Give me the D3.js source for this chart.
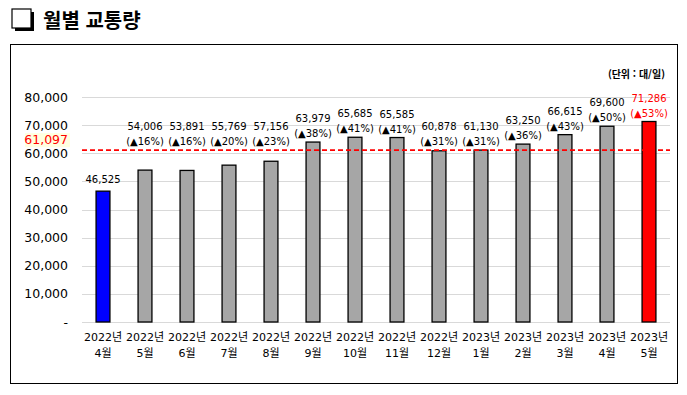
<!DOCTYPE html>
<html lang="ko">
<head>
<meta charset="UTF-8">
<title>월별 교통량</title>
<script src="https://d3js.org/d3.v7.min.js"></script>
<style>
  body { margin: 0; background: #fff; }
  svg { font-family: "DejaVu Sans", "Noto Sans CJK KR", sans-serif; }
</style>
</head>
<body>
<div id="chart"></div>
<script>
const years = ["2022년","2022년","2022년","2022년","2022년","2022년","2022년","2022년","2022년","2023년","2023년","2023년","2023년","2023년"];
const months = ["4월","5월","6월","7월","8월","9월","10월","11월","12월","1월","2월","3월","4월","5월"];
const traffic = [46525, 54006, 53891, 55769, 57156, 63979, 65685, 65585, 60878, 61130, 63250, 66615, 69600, 71286];
const growth = [null, "16%", "16%", "20%", "23%", "38%", "41%", "41%", "31%", "31%", "36%", "43%", "50%", "53%"];
const average = 61097;
const yTicks = [0, 10000, 20000, 30000, 40000, 50000, 60000, 70000, 80000];

const rows = traffic.map((v, i) => ({ i: i, value: v, growth: growth[i], year: years[i], month: months[i] }));

const width = 687, height = 395;
const svg = d3.select("#chart").append("svg")
    .attr("width", width)
    .attr("height", height);

// title
svg.append("rect").attr("x", 15).attr("y", 12).attr("width", 19).attr("height", 19).attr("fill", "#000");
svg.append("rect").attr("x", 12).attr("y", 9).attr("width", 19).attr("height", 19)
    .attr("fill", "#fff").attr("stroke", "#000").attr("stroke-width", 1.2);
svg.append("text")
    .attr("x", 43).attr("y", 28)
    .style("font-family", "\"Noto Sans CJK KR\", sans-serif")
    .style("font-size", "20px").style("font-weight", "bold")
    .text("월별 교통량");

// frame
svg.append("rect")
    .attr("x", 10.5).attr("y", 44.5).attr("width", 667).attr("height", 339)
    .attr("fill", "none").attr("stroke", "#000").attr("stroke-width", 1);

const x = d3.scaleBand().domain(rows.map(d => d.i)).range([82, 670]).paddingInner(0.67).paddingOuter(0.335);
const y = d3.scaleLinear().domain([0, 80000]).range([322, 97]);
const cx = d => x(d.i) + x.bandwidth() / 2;
const last = traffic.length - 1;

// gridlines
svg.append("g").selectAll("line")
    .data(yTicks)
    .join("line")
    .attr("x1", 82).attr("x2", 670)
    .attr("y1", d => Math.round(y(d)) + 0.5).attr("y2", d => Math.round(y(d)) + 0.5)
    .attr("stroke", "#d9d9d9").attr("stroke-width", 1);

// y axis labels
const yAxis = svg.append("g")
    .attr("transform", "translate(82,0)")
    .call(d3.axisLeft(y).tickValues(yTicks).tickSize(0).tickPadding(14)
        .tickFormat(d => d === 0 ? "-" : d3.format(",")(d)));
yAxis.select(".domain").remove();
yAxis.selectAll("text")
    .style("font-family", "\"DejaVu Sans\", sans-serif")
    .style("font-size", "12.5px").attr("fill", "#000");

// bars
svg.append("g").selectAll("rect")
    .data(rows)
    .join("rect")
    .attr("x", d => x(d.i))
    .attr("y", d => y(d.value))
    .attr("width", x.bandwidth())
    .attr("height", d => y(0) - y(d.value))
    .attr("fill", d => d.i === 0 ? "#0000ff" : d.i === last ? "#ff0000" : "#a6a6a6")
    .attr("stroke", "#000").attr("stroke-width", 1.3);

// average line
svg.append("line")
    .attr("x1", 82).attr("x2", 670)
    .attr("y1", y(average)).attr("y2", y(average))
    .attr("stroke", "#ff0000").attr("stroke-width", 1.6).attr("stroke-dasharray", "5,3");
svg.append("rect")
    .attr("x", 25).attr("y", y(average) - 17).attr("width", 45).attr("height", 14)
    .attr("fill", "#ffffe0");
svg.append("text")
    .attr("x", 68).attr("y", y(average) - 6)
    .attr("text-anchor", "end")
    .style("font-size", "12.5px").attr("fill", "#ff0000")
    .text(d3.format(",")(average));

// value labels
const labels = svg.append("g")
    .attr("text-anchor", "middle")
    .style("font-size", "10px");

labels.selectAll("text.val")
    .data(rows)
    .join("text")
    .attr("class", "val")
    .attr("fill", d => d.i === last ? "#ff0000" : "#000")
    .attr("x", cx)
    .attr("y", d => d.i === 0 ? y(d.value) - 8 : Math.min(y(d.value), y(average)) - 20)
    .text(d => d3.format(",")(d.value));

labels.selectAll("text.pct")
    .data(rows.filter(d => d.growth !== null))
    .join("text")
    .attr("class", "pct")
    .attr("fill", d => d.i === last ? "#ff0000" : "#000")
    .attr("x", cx)
    .attr("y", d => Math.min(y(d.value), y(average)) - 5)
    .text(d => "(▲" + d.growth + ")");

// x axis labels
const xl = svg.append("g").selectAll("text")
    .data(rows)
    .join("text")
    .attr("text-anchor", "middle")
    .style("font-size", "11px");
xl.append("tspan").attr("x", cx).attr("y", 341).text(d => d.year);
xl.append("tspan").attr("x", cx).attr("y", 357).text(d => d.month);

// unit
svg.append("text")
    .attr("x", 665).attr("y", 78)
    .attr("text-anchor", "end")
    .style("font-family", "\"Noto Sans CJK KR\", sans-serif")
    .style("font-size", "10px").style("font-weight", "bold")
    .text("(단위 : 대/일)");
</script>
</body>
</html>
